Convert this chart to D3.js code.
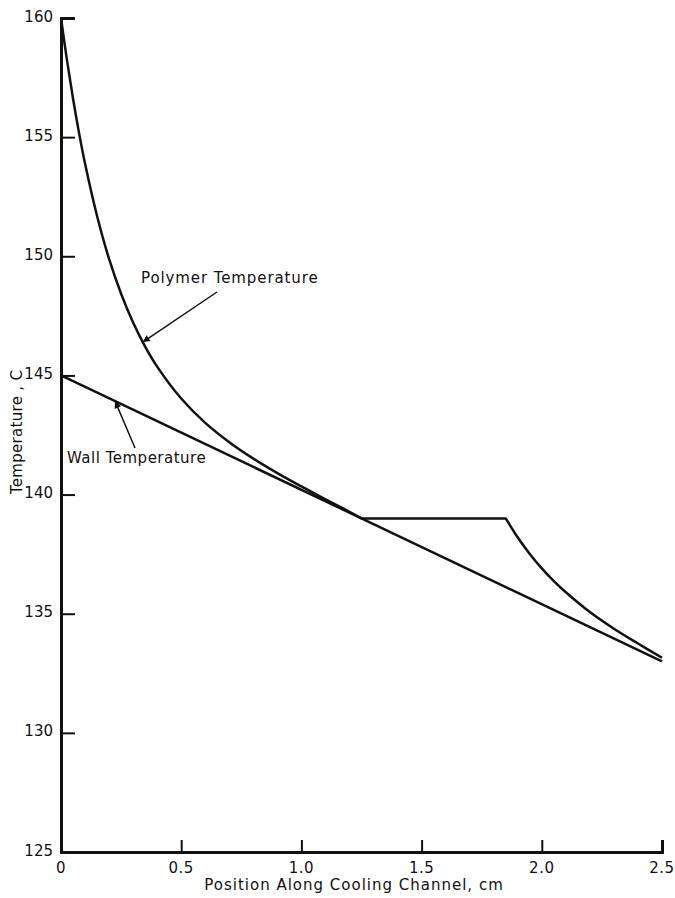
<!DOCTYPE html>
<html>
<head>
<meta charset="utf-8">
<script src="https://cdn.jsdelivr.net/npm/d3@7"></script>
<style>
  body { margin: 0; background: #fff; }
  text { font-family: "DejaVu Sans", sans-serif; fill: #111; }
</style>
</head>
<body>
<svg id="chart" width="675" height="898"></svg>
<script>
// x: position along cooling channel (cm), y: temperature (C)
const yTicks = [125, 130, 135, 140, 145, 150, 155, 160];
const xTicks = [0, 0.5, 1.0, 1.5, 2.0, 2.5];
const xTickLabels = ["0", "0.5", "1.0", "1.5", "2.0", "2.5"];

const wallX = [0, 2.5];
const wallT = [145, 133];

const polymerX = [0, 0.025, 0.05, 0.075, 0.1, 0.15, 0.2, 0.25, 0.3, 0.35, 0.4, 0.5, 0.6, 0.7, 0.8, 0.9, 1.0, 1.1, 1.2, 1.25,
                  1.85, 1.9, 1.95, 2.0, 2.05, 2.1, 2.2, 2.3, 2.4, 2.5];
const polymerT = [160, 158.22, 156.62, 155.18, 153.89, 151.69, 149.89, 148.43, 147.22, 146.21, 145.37, 144.03, 143.01, 142.2, 141.51, 140.9, 140.34, 139.8, 139.28, 139.0,
                  139.0, 138.2, 137.51, 136.9, 136.37, 135.9, 135.07, 134.37, 133.75, 133.15];
// corners where the polymer curve changes regime (start / end of the plateau)
const polymerKinks = [1.25, 1.85];

const svg = d3.select("#chart");
const margin = { left: 61, right: 12, top: 18, bottom: 46 };
const W = 675, H = 898;

const x = d3.scaleLinear().domain([0, 2.5]).range([margin.left, W - margin.right - 1]);
const y = d3.scaleLinear().domain([125, 160]).range([H - margin.bottom, margin.top]);

// axes, ticks pointing inward
const yAxis = svg.append("g")
    .attr("transform", `translate(${margin.left},0)`)
    .call(d3.axisRight(y).tickValues(yTicks).tickSize(14).tickFormat(""));
const xAxis = svg.append("g")
    .attr("transform", `translate(0,${y(125)})`)
    .call(d3.axisTop(x).tickValues(xTicks).tickSize(12).tickFormat(""));
[yAxis, xAxis].forEach(a => {
    a.select(".domain").attr("stroke", "#111").attr("stroke-width", 3);
    a.selectAll(".tick line").attr("stroke", "#111").attr("stroke-width", 2);
});

svg.append("g").selectAll("text").data(yTicks).join("text")
    .attr("x", margin.left - 8)
    .attr("y", d => y(d) + 3.5)
    .attr("text-anchor", "end")
    .attr("font-size", 15)
    .text(d => d);

svg.append("g").selectAll("text").data(xTicks).join("text")
    .attr("x", d => x(d))
    .attr("y", y(125) + 21)
    .attr("text-anchor", "middle")
    .attr("font-size", 15)
    .attr("letter-spacing", 0.5)
    .text((d, i) => xTickLabels[i]);

svg.append("text")
    .attr("x", 354).attr("y", 890)
    .attr("text-anchor", "middle")
    .attr("font-size", 15)
    .attr("letter-spacing", 1)
    .text("Position Along Cooling Channel, cm");

svg.append("text")
    .attr("transform", "translate(22,432) rotate(-90)")
    .attr("text-anchor", "middle")
    .attr("font-size", 15)
    .attr("letter-spacing", 0.3)
    .text("Temperature , C");

// curves
const line = d3.line().x(d => x(d[0])).y(d => y(d[1]));
svg.append("path")
    .datum(wallX.map((v, i) => [v, wallT[i]]))
    .attr("d", line)
    .attr("fill", "none").attr("stroke", "#111").attr("stroke-width", 2.5);

const polyPts = polymerX.map((v, i) => [v, polymerT[i]]);
const bounds = [0, ...polymerKinks, 2.5];
const smooth = d3.line().x(d => x(d[0])).y(d => y(d[1])).curve(d3.curveCatmullRom);
const polyD = d3.pairs(bounds)
    .map(([a, b]) => smooth(polyPts.filter(p => p[0] >= a && p[0] <= b)))
    .map((d, i) => i === 0 ? d : "L" + d.slice(1))
    .join("");
svg.append("path")
    .attr("d", polyD)
    .attr("fill", "none").attr("stroke", "#111").attr("stroke-width", 2.5)
    .attr("stroke-linejoin", "round");

// annotations
svg.append("defs").append("marker")
    .attr("id", "arr").attr("viewBox", "0 0 10 10")
    .attr("refX", 10).attr("refY", 5)
    .attr("markerWidth", 10).attr("markerHeight", 7)
    .attr("markerUnits", "userSpaceOnUse")
    .attr("orient", "auto")
    .append("path").attr("d", "M0,0 L10,5 L0,10 Z").attr("fill", "#111");

const notes = [
    { text: "Polymer Temperature", tx: 141, ty: 283, spacing: 0.9, from: [217, 292], to: [0.34, 146.4] },
    { text: "Wall Temperature", tx: 67, ty: 463, spacing: 0.5, from: [135, 448], to: [0.225, 143.92] }
];
notes.forEach(n => {
    svg.append("text").attr("x", n.tx).attr("y", n.ty)
        .attr("font-size", 15).attr("letter-spacing", n.spacing).text(n.text);
    svg.append("line")
        .attr("x1", n.from[0]).attr("y1", n.from[1])
        .attr("x2", x(n.to[0])).attr("y2", y(n.to[1]))
        .attr("stroke", "#111").attr("stroke-width", 1.5)
        .attr("marker-end", "url(#arr)");
});
</script>
</body>
</html>
